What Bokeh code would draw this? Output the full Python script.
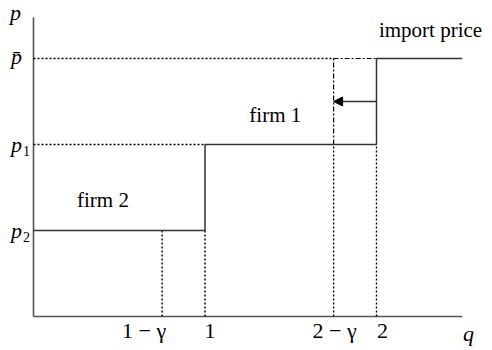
from bokeh.plotting import figure
from bokeh.models import Range1d, Arrow, NormalHead
from bokeh.core.properties import value
from bokeh.embed import file_html
from bokeh.resources import INLINE

# Model parameters (quantities and prices)
gamma = 0.25
q_ticks = [1 - gamma, 1, 2 - gamma, 2]
q_tick_labels = ["1 − γ", "1", "2 − γ", "2"]
p2, p1, p_bar = 1.0, 2.0, 3.0
q_max = 2.5

# Supply step curve: firm 2, firm 1, then imports
step_q = [0, 1, 1, 2, 2, q_max]
step_p = [p2, p2, p1, p1, p_bar, p_bar]

# Region labels
region_q = [0.405, 1.41, 2.315]
region_p = [1.35, 2.34, 3.33]
region_text = ["firm 2", "firm 1", "import price"]

FONT = "Liberation Serif"
INK = "#333333"

# The frame fills the whole canvas; axes are drawn by hand
p = figure(width=492, height=350, output_backend="svg", toolbar_location=None,
           x_range=Range1d(-33 / 171.5, 459 / 171.5),
           y_range=Range1d(-34 / 86, 316 / 86),
           min_border=0)
p.xaxis.visible = False
p.yaxis.visible = False
p.outline_line_color = None
p.grid.visible = False
p.background_fill_color = "white"
p.border_fill_color = "white"

# Axis lines
p.line([0, 0], [0, 3.48], line_color="#555555", line_width=1.6)
p.line([0, q_max], [0, 0], line_color="#555555", line_width=1.6)

# Dotted guide lines
dot = dict(line_color="black", line_width=1.4, line_dash="2 2")
p.line([0, 2 - gamma], [p_bar, p_bar], **dot)
p.line([0, 1], [p1, p1], **dot)
p.line([1 - gamma, 1 - gamma], [0, p2], **dot)
p.line([1, 1], [0, p2], **dot)
p.line([2 - gamma, 2 - gamma], [0, p1], **dot)
p.line([2, 2], [0, p1], **dot)

# Shifted supply after the quota (dash-dot)
dashdot = dict(line_color="black", line_width=1.2, line_dash="5 2 2 2")
p.line([2 - gamma, 2 - gamma], [p1, p_bar], **dashdot)
p.line([2 - gamma, 2], [p_bar, p_bar], **dashdot)

# Supply curve
p.line(step_q, step_p, line_color=INK, line_width=1.5)

# Shift arrow
p.add_layout(Arrow(x_start=2, y_start=2.5, x_end=2 - gamma, y_end=2.5,
                   line_color=INK, line_width=1.5,
                   end=NormalHead(size=9, fill_color="black", line_color="black")))

txt = dict(text_font=value(FONT), text_align="center",
           text_baseline="middle", text_color="black")

# Quantity tick labels
p.text(x=q_ticks, y=[0] * len(q_ticks), text=q_tick_labels,
       x_offset=[-18, 5, 1, 6], y_offset=14, text_font_size="22px", **txt)

# Price tick labels: italic p with upright subscripts
p.text(x=[0, 0, 0], y=[p2, p1, p_bar], text=["p", "p", "p̄"],
       x_offset=[-17, -17, -17], y_offset=[0, 0, -2],
       text_font_style="italic", text_font_size="22px", **txt)
p.text(x=[0, 0], y=[p2, p1], text=["2", "1"], x_offset=-7, y_offset=6,
       text_font_size="14px", **txt)

# Region labels
p.text(x=region_q, y=region_p, text=region_text, text_font_size="21px", **txt)

# Axis names
p.text(x=[-0.105, 2.536], y=[3.535, -0.198], text=["p", "q"],
       text_font_style="italic", text_font_size="22px", **txt)

open("out.html", "w").write(file_html(p, INLINE))
